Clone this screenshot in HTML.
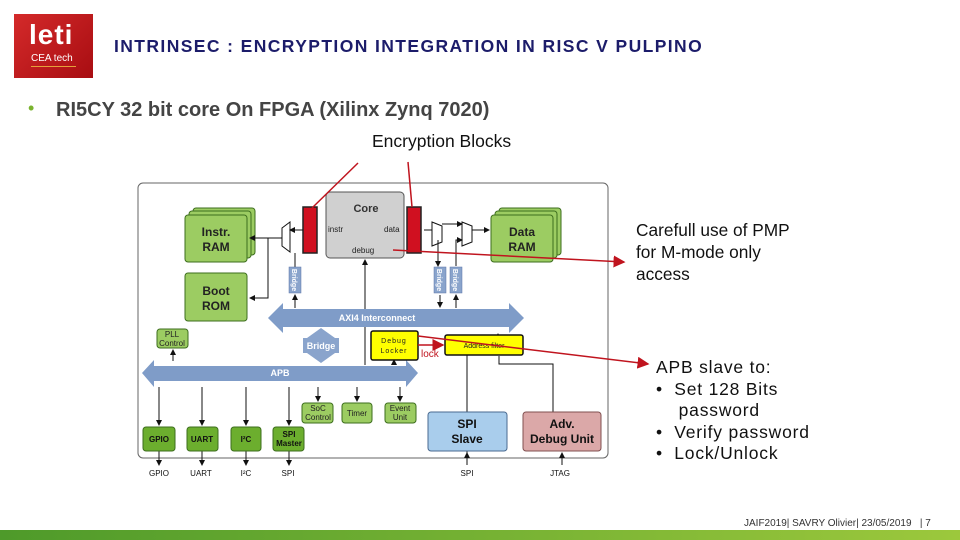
<!DOCTYPE html>
<html><head><meta charset="utf-8"><style>
body{margin:0;width:960px;height:540px;overflow:hidden;background:#fff;font-family:"Liberation Sans",sans-serif;position:relative}
.t{position:absolute;white-space:nowrap}
</style></head><body>
<div style="position:absolute;left:14px;top:14px;width:79px;height:64px;background:linear-gradient(135deg,#d42a2a,#a80d12)"></div>
<div class="t" style="left:29px;top:19px;font-size:28px;font-weight:bold;color:#fff;letter-spacing:1px">leti</div>
<div class="t" style="left:31px;top:53px;font-size:10px;color:#fff">CEA tech</div>
<div style="position:absolute;left:31px;top:66px;width:45px;height:1px;background:#e6a03a"></div>
<div class="t" style="left:114px;top:36px;font-size:17.5px;font-weight:bold;color:#1c1c6a;letter-spacing:1.4px">INTRINSEC : ENCRYPTION INTEGRATION IN RISC V PULPINO</div>
<div class="t" style="left:28px;top:98px;font-size:18px;color:#7ab32e">•</div>
<div class="t" style="left:56px;top:99px;font-size:20px;font-weight:bold;color:#444">RI5CY 32 bit core On FPGA (Xilinx Zynq 7020)</div>
<div class="t" style="left:372px;top:131px;font-size:17.5px;color:#111">Encryption Blocks</div>
<div class="t" style="left:636px;top:219px;font-size:17.3px;line-height:22px;color:#111">Carefull use of PMP<br>for M-mode only<br>access</div>
<div class="t" style="left:656px;top:357px;font-size:17.5px;line-height:21.5px;color:#111;letter-spacing:0.8px">APB slave to:<br>•&nbsp; Set 128 Bits<br>&nbsp;&nbsp;&nbsp;&nbsp;password<br>•&nbsp; Verify password<br>•&nbsp; Lock/Unlock</div>
<div class="t" style="left:744px;top:518px;font-size:10px;color:#333">JAIF2019| SAVRY Olivier| 23/05/2019 &nbsp;&nbsp;| 7</div>
<div style="position:absolute;left:0;top:530px;width:960px;height:10px;background:linear-gradient(90deg,#4e9a2a,#9cc83c)"></div>
<svg width="960" height="540" style="position:absolute;left:0;top:0" font-family="Liberation Sans,sans-serif" font-weight="bold">
<defs><marker id="a" markerWidth="6" markerHeight="6" refX="5" refY="3" orient="auto"><path d="M0,0L6,3L0,6z" fill="#111"/></marker>
<marker id="r" markerWidth="8" markerHeight="8" refX="7" refY="4" orient="auto"><path d="M0,0L8,4L0,8z" fill="#c0141e"/></marker></defs>
<rect x="138" y="183" width="470" height="275" rx="5" fill="#fff" stroke="#666"/>
<g fill="#9ccc62" stroke="#3d6e1e">
<rect x="193" y="208" width="62" height="47" rx="3"/><rect x="189" y="211" width="62" height="47" rx="3"/><rect x="185" y="215" width="62" height="47" rx="3"/>
<rect x="185" y="273" width="62" height="48" rx="3"/>
<rect x="499" y="208" width="62" height="47" rx="3"/><rect x="495" y="211" width="62" height="47" rx="3"/><rect x="491" y="215" width="62" height="47" rx="3"/>
</g>
<g font-size="12" fill="#222" text-anchor="middle"><text x="216" y="236">Instr.</text><text x="216" y="251">RAM</text>
<text x="216" y="295">Boot</text><text x="216" y="310">ROM</text><text x="522" y="236">Data</text><text x="522" y="251">RAM</text></g>
<rect x="326" y="192" width="78" height="66" rx="4" fill="#d0d0d0" stroke="#555"/>
<text x="366" y="212" font-size="11" text-anchor="middle" fill="#333">Core</text>
<g font-size="8" font-weight="normal" fill="#222"><text x="328" y="232">instr</text><text x="384" y="232">data</text><text x="352" y="253">debug</text></g>
<rect x="303" y="207" width="14" height="46" fill="#d01020" stroke="#222" stroke-width="1.5"/>
<rect x="407" y="207" width="14" height="46" fill="#d01020" stroke="#222" stroke-width="1.5"/>
<g stroke="#111" fill="none" stroke-width="1">
<path d="M282,228L290,222V252L282,246Z" fill="#fff"/><path d="M303,230H290" marker-end="url(#a)"/><path d="M282,238H250" marker-end="url(#a)"/>
<path d="M268,238V298H250" marker-end="url(#a)"/><path d="M295,268V253"/>
<path d="M424,230H432"/><path d="M432,222L442,226V242L432,246Z" fill="#fff"/><path d="M462,222L472,226V242L462,246Z" fill="#fff"/>
<path d="M442,224H462" marker-end="url(#a)"/><path d="M472,230H489" marker-end="url(#a)"/><path d="M438,240V266" marker-end="url(#a)"/><path d="M456,266V240H462" marker-end="url(#a)"/>
<path d="M365,365V260" marker-end="url(#a)"/><path d="M295,308V295" marker-end="url(#a)"/><path d="M440,295V307" marker-end="url(#a)"/><path d="M456,308V295" marker-end="url(#a)"/>
<path d="M467,412V337" marker-end="url(#a)"/><path d="M498,340V334" marker-end="url(#a)"/>
<path d="M499,356V364H553V412"/><path d="M467,458V335"/>
<path d="M173,361V350" marker-end="url(#a)"/><path d="M394,365V360" marker-end="url(#a)"/>
<path d="M159,387V425" marker-end="url(#a)"/><path d="M202,387V425" marker-end="url(#a)"/><path d="M246,387V425" marker-end="url(#a)"/><path d="M289,387V425" marker-end="url(#a)"/>
<path d="M318,387V401" marker-end="url(#a)"/><path d="M357,387V401" marker-end="url(#a)"/><path d="M400,387V401" marker-end="url(#a)"/>
<path d="M159,451V465" marker-end="url(#a)"/><path d="M202,451V465" marker-end="url(#a)"/><path d="M246,451V465" marker-end="url(#a)"/><path d="M289,451V465" marker-end="url(#a)"/>
<path d="M467,465V453" marker-end="url(#a)"/><path d="M562,465V453" marker-end="url(#a)"/>
</g>
<g fill="#8aa4cc" stroke="#5a74a8" stroke-width="0.5">
<rect x="289" y="267" width="12" height="26"/><rect x="434" y="267" width="12" height="26"/><rect x="450" y="267" width="12" height="26"/>
<path d="M268,318L283,303V309H509V303L524,318L509,333V327H283V333Z" fill="#7f9cc8" stroke="none"/>
<path d="M142,373L154,360V366H406V360L418,373L406,387V381H154V387Z" fill="#7f9cc8" stroke="none"/>
<path d="M321,328L335,338H339V353H335L321,363L307,353H303V338H307Z" fill="#8aa4cc" stroke="none"/>
</g>
<g font-size="7" fill="#fff" text-anchor="middle"><text transform="translate(292,280) rotate(90)" x="0" y="0">Bridge</text>
<text transform="translate(437,280) rotate(90)">Bridge</text><text transform="translate(453,280) rotate(90)">Bridge</text>
<text x="377" y="321" font-size="9">AXI4 Interconnect</text><text x="280" y="376" font-size="9">APB</text><text x="321" y="349" font-size="9">Bridge</text></g>
<g fill="#9ccc62" stroke="#3d6e1e"><rect x="157" y="329" width="31" height="19" rx="3"/>
<rect x="302" y="403" width="31" height="20" rx="3"/><rect x="342" y="403" width="30" height="20" rx="3"/><rect x="385" y="403" width="31" height="20" rx="3"/></g>
<g fill="#6cae2e" stroke="#3d6e1e"><rect x="143" y="427" width="32" height="24" rx="3"/><rect x="187" y="427" width="31" height="24" rx="3"/><rect x="231" y="427" width="30" height="24" rx="3"/><rect x="273" y="427" width="31" height="24" rx="3"/></g>
<g font-size="8" fill="#222" text-anchor="middle" font-weight="normal"><text x="172" y="337">PLL</text><text x="172" y="346">Control</text>
<text x="318" y="411">SoC</text><text x="318" y="420">Control</text><text x="357" y="416">Timer</text><text x="400" y="411">Event</text><text x="400" y="420">Unit</text></g>
<g font-size="8" fill="#111" text-anchor="middle"><text x="159" y="442">GPIO</text><text x="202" y="442">UART</text><text x="246" y="442">I²C</text><text x="289" y="437">SPI</text><text x="289" y="446">Master</text>
<text x="159" y="476" font-weight="normal">GPIO</text><text x="201" y="476" font-weight="normal">UART</text><text x="246" y="476" font-weight="normal">I²C</text><text x="288" y="476" font-weight="normal">SPI</text><text x="467" y="476" font-weight="normal">SPI</text><text x="560" y="476" font-weight="normal">JTAG</text></g>
<rect x="428" y="412" width="79" height="39" rx="3" fill="#a9cdec" stroke="#4a6a90"/><rect x="523" y="412" width="78" height="39" rx="3" fill="#dba8a8" stroke="#805050"/>
<g font-size="12" fill="#111" text-anchor="middle"><text x="467" y="428">SPI</text><text x="467" y="443">Slave</text><text x="562" y="428">Adv.</text><text x="562" y="443">Debug Unit</text></g>
<rect x="371" y="331" width="47" height="29" rx="2" fill="#ffff00" stroke="#111" stroke-width="1.5"/>
<rect x="445" y="335" width="78" height="20" rx="2" fill="#ffff00" stroke="#111" stroke-width="1.5"/>
<g font-size="7" fill="#222" text-anchor="middle" font-weight="normal"><text x="394" y="343" letter-spacing="1">Debug</text><text x="394" y="353" letter-spacing="1">Locker</text><text x="484" y="348">Address filter</text></g>
<text x="421" y="357" font-size="10" fill="#c0141e" font-weight="normal">lock</text>
<g stroke="#c0141e" stroke-width="1.5" fill="none">
<path d="M418,345H443" marker-end="url(#r)"/>
<path d="M358,163L312,208"/><path d="M408,162L412,207"/>
<path d="M393,250L624,262" marker-end="url(#r)"/>
<path d="M418,336L648,364" marker-end="url(#r)"/>
</g>
</svg>
</body></html>
